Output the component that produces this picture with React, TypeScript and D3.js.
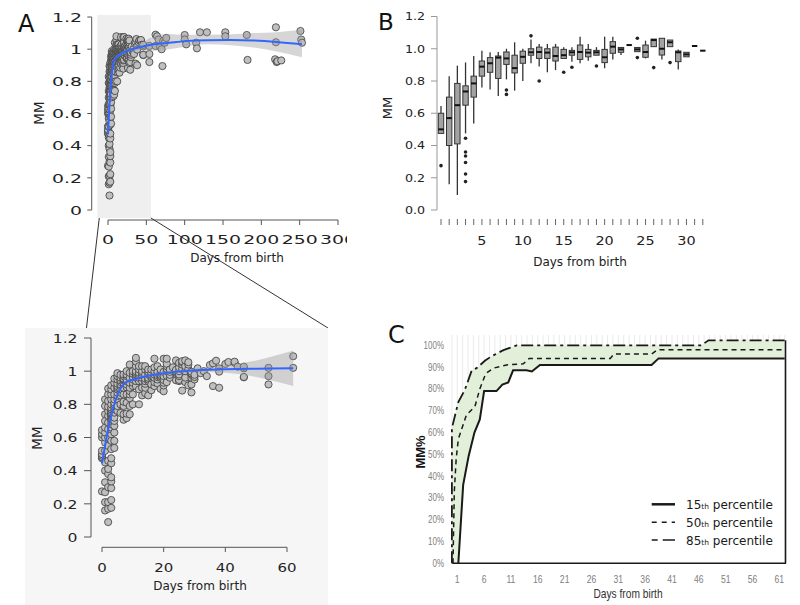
import React from 'react';
import * as d3 from 'd3';

// ---------- Panel A: scatter data (MM by day from birth) ----------
const dayMM: number[][] = [
  [0.275, 0.475, 0.48, 0.49, 0.5, 0.52, 0.6, 0.62, 0.645],
  [0.16, 0.21, 0.27, 0.33, 0.4, 0.45, 0.52, 0.57, 0.6, 0.63, 0.66, 0.7, 0.74, 0.79, 0.83],
  [0.09, 0.17, 0.21, 0.3, 0.38, 0.41, 0.46, 0.55, 0.6, 0.65, 0.69, 0.73, 0.76, 0.785, 0.82, 0.86, 0.895],
  [0.176, 0.223, 0.295, 0.335, 0.36, 0.445, 0.475, 0.53, 0.58, 0.62, 0.65, 0.66, 0.68, 0.7, 0.71, 0.72, 0.73, 0.735, 0.74, 0.745, 0.75, 0.76, 0.77, 0.78, 0.8, 0.83, 0.86, 0.89, 0.915],
  [0.537, 0.58, 0.63, 0.67, 0.7, 0.72, 0.75, 0.77, 0.785, 0.8, 0.81, 0.83, 0.86, 0.9, 0.93, 0.955],
  [0.76, 0.79, 0.83, 0.85, 0.87, 0.89, 0.9, 0.91, 0.924, 0.95, 0.97, 0.988],
  [0.748, 0.8, 0.854, 0.87, 0.89, 0.91, 0.92, 0.935, 0.945, 0.96, 0.978],
  [0.707, 0.74, 0.79, 0.816, 0.86, 0.9, 0.93, 0.945, 0.95, 0.955, 0.97, 0.98],
  [0.717, 0.744, 0.81, 0.86, 0.903, 0.92, 0.94, 0.95, 0.97, 0.98, 1.0],
  [0.74, 0.79, 0.837, 0.86, 0.88, 0.9, 0.93, 0.96, 0.99, 1.04],
  [0.8, 0.86, 0.91, 0.93, 0.95, 0.965, 0.985, 1.0],
  [0.91, 0.94, 0.96, 0.975, 0.98, 0.99, 1.0, 1.03, 1.058, 1.08],
  [0.8, 0.89, 0.94, 0.96, 0.98, 0.99, 1.01, 1.03],
  [0.854, 0.9, 0.94, 0.96, 0.976, 0.99, 1.0, 1.03],
  [0.868, 0.9, 0.924, 0.94, 0.955, 0.98, 1.01, 1.03],
  [0.854, 0.94, 0.95, 0.96, 0.98, 0.996, 1.01],
  [0.885, 0.92, 0.96, 0.97, 0.978, 0.99, 1.01],
  [0.91, 0.934, 0.96, 0.98, 1.0, 1.023, 1.075],
  [0.926, 0.95, 0.965, 0.976, 0.99, 0.996, 1.03],
  [0.893, 0.96, 0.97, 0.978, 0.99, 1.01],
  [0.879, 0.914, 0.93, 0.947, 0.97, 0.996, 1.075],
  [0.934, 0.972, 1.0, 1.013, 1.03, 1.044, 1.075],
  [0.961, 0.978, 0.996, 1.008, 1.01],
  [1.023],
  [0.945, 0.982, 0.99, 0.996, 1.0, 1.008, 1.065],
  [0.94, 0.947, 0.97, 0.98, 1.0, 1.023, 1.05],
  [0.883, 1.013, 1.04, 1.054, 1.06],
  [0.934, 0.961, 1.0, 1.03, 1.065],
  [0.914, 1.013, 1.04, 1.054],
  [0.872, 0.92, 0.96, 0.978, 0.986, 0.996],
  [0.95, 0.965, 0.978],
  [1.017],
  [0.988],
];

const laterDays = [33, 34, 35, 36, 36, 37, 38, 38, 38, 40, 41, 43, 43, 44, 46, 46, 46, 46, 54, 54, 54, 62, 62,
  64, 66, 68, 70, 71, 72, 74, 76, 100, 100, 102, 115, 116, 120, 129, 153, 153, 181, 182, 218, 219, 219, 220, 221, 226, 251, 252, 253];
const laterMM = [1.0, 0.97, 1.037, 0.91, 1.047, 1.063, 1.017, 0.997, 0.9, 1.043, 1.055, 1.051, 1.057, 1.027, 1.017, 0.963, 1.027, 0.965, 1.02, 0.97, 0.92, 1.09, 1.02,
  1.08, 1.06, 1.015, 1.0, 0.895, 1.05, 1.04, 1.07, 1.088, 1.06, 1.03, 1.04, 1.005, 1.105, 1.105, 1.105, 1.08, 1.088, 0.933, 0.937, 1.136, 1.043, 0.92, 0.925, 0.93, 1.113, 1.06, 1.04];

// smooth fit, full range (top panel)
const fitDaysA = [0, 1, 2, 3, 4, 6, 9, 15, 25, 40, 60, 80, 100, 130, 160, 190, 220, 253];
const fitA = [0.47, 0.57, 0.66, 0.74, 0.8, 0.88, 0.94, 0.965, 0.99, 1.01, 1.03, 1.04, 1.05, 1.056, 1.057, 1.054, 1.045, 1.03];
const fitALo = [0.44, 0.55, 0.645, 0.727, 0.79, 0.87, 0.928, 0.955, 0.98, 0.995, 0.99, 1.0, 1.015, 1.03, 1.025, 1.01, 0.985, 0.95];
const fitAHi = [0.5, 0.59, 0.675, 0.753, 0.81, 0.89, 0.952, 0.975, 1.0, 1.03, 1.08, 1.095, 1.09, 1.09, 1.092, 1.1, 1.105, 1.12];

// smooth fit, first 62 days (inset)
const fitDaysI = [0, 1, 2, 3, 4, 5, 6, 7, 8, 10, 12, 15, 20, 25, 32, 40, 50, 62];
const fitI = [0.445, 0.55, 0.65, 0.73, 0.8, 0.855, 0.895, 0.92, 0.935, 0.948, 0.958, 0.972, 0.988, 0.998, 1.007, 1.012, 1.015, 1.017];
const fitILo = [0.41, 0.525, 0.632, 0.716, 0.788, 0.844, 0.885, 0.91, 0.925, 0.939, 0.949, 0.963, 0.979, 0.988, 0.995, 0.99, 0.965, 0.91];
const fitIHi = [0.48, 0.575, 0.668, 0.744, 0.812, 0.866, 0.905, 0.93, 0.945, 0.957, 0.967, 0.981, 0.997, 1.008, 1.019, 1.034, 1.065, 1.124];

const aTicksY = [0, 0.2, 0.4, 0.6, 0.8, 1, 1.2];
const aTicksX = [0, 50, 100, 150, 200, 250, 300];
const insetTicksX = [0, 20, 40, 60];
const zoomWindow = [-14, 56];

// ---------- Panel B: box plot stats by day ----------
const boxDays = [0, 1, 2, 3, 4, 5, 6, 7, 8, 9, 10, 11, 12, 13, 14, 15, 16, 17, 18, 19, 20, 21, 22, 23, 24, 25, 26, 27, 28, 29, 30, 31, 32];
const boxLo = [0.475, 0.16, 0.093, 0.475, 0.537, 0.759, 0.748, 0.707, 0.81, 0.74, 0.8, 0.91, 0.89, 0.854, 0.868, 0.94, 0.92, 0.91, 0.926, 0.96, 0.879, 0.934, 0.961, 1.023, 0.982, 0.94, 1.013, 0.934, 1.013, 0.872, 0.95, 1.017, 0.988];
const boxQ1 = [0.475, 0.4, 0.41, 0.65, 0.7, 0.83, 0.854, 0.816, 0.903, 0.85, 0.91, 0.96, 0.94, 0.94, 0.924, 0.94, 0.96, 0.934, 0.95, 0.96, 0.914, 0.972, 0.978, 1.023, 0.982, 0.947, 1.013, 0.961, 1.013, 0.92, 0.95, 1.017, 0.988];
const boxMed = [0.5, 0.57, 0.65, 0.735, 0.785, 0.889, 0.91, 0.945, 0.94, 0.88, 0.95, 0.978, 0.98, 0.976, 0.955, 0.96, 0.978, 0.98, 0.976, 0.978, 0.947, 1.013, 0.996, 1.023, 0.996, 0.98, 1.054, 1.0, 1.04, 0.978, 0.965, 1.017, 0.988];
const boxQ3 = [0.6, 0.7, 0.785, 0.77, 0.83, 0.924, 0.945, 0.955, 0.98, 0.96, 0.985, 1.0, 1.01, 1.0, 1.01, 0.996, 0.99, 1.023, 0.996, 0.99, 0.996, 1.044, 1.008, 1.023, 1.008, 1.023, 1.06, 1.065, 1.054, 0.986, 0.978, 1.017, 0.988];
const boxHi = [0.645, 0.83, 0.895, 0.915, 0.955, 0.988, 0.978, 0.98, 1.0, 1.04, 1.0, 1.058, 1.03, 1.03, 1.03, 1.01, 1.01, 1.075, 1.03, 1.01, 1.075, 1.075, 1.01, 1.023, 1.008, 1.05, 1.06, 1.065, 1.054, 0.996, 0.978, 1.017, 0.988];
const boxOut: number[][] = [[0.275], [], [], [0.445, 0.36, 0.335, 0.295, 0.223, 0.176], [], [], [], [], [0.744, 0.717], [], [], [1.08], [0.8], [], [], [0.854], [0.885], [], [], [0.893], [], [], [], [], [1.065, 0.945], [], [0.883], [], [0.914], [], [], [], []];
const bTicksY = [0, 0.2, 0.4, 0.6, 0.8, 1.0, 1.2];
const bLabelsX = [5, 10, 15, 20, 25, 30];

// ---------- Panel C: percentile curves ----------
const p15Days = [1.2, 2.1, 3.1, 4.2, 5.2, 6.0, 8.3, 9.4, 10.5, 11.4, 13.9, 14.9, 16.4, 37.2, 38.5, 62];
const p15Vals = [0, 36, 49, 60, 66, 79, 79, 82, 83, 88.5, 88.5, 88, 91, 91, 94, 94];
const p50Days = [0.2, 0.45, 0.8, 1.2, 2.7, 4.3, 5.2, 6.3, 7.7, 10.2, 13.3, 14.4, 29.5, 30.2, 37.2, 38.3, 62];
const p50Vals = [0, 33, 48, 57, 68, 72, 80, 87, 89.5, 91, 91.5, 94, 94, 96, 96, 98, 98];
const p85Days = [0, 0, 1.2, 2.4, 3.7, 4.6, 6.2, 7.4, 9.6, 12.1, 46.5, 47.8, 62];
const p85Vals = [0, 62, 74, 79.5, 88.5, 89.5, 93, 95, 97.8, 100, 100, 102.3, 102.3];
const cTicksY = [0, 10, 20, 30, 40, 50, 60, 70, 80, 90, 100];
const cLabelsX = [1, 6, 11, 16, 21, 26, 31, 36, 41, 46, 51, 56, 61];
const legendNames = ['15', '50', '85'];

const DJ = "'DejaVu Sans', Verdana, sans-serif";
const LIB = "'Liberation Sans', Arial, sans-serif";

function ST(props: any) {
  const { x, y, s = 1, anchor = 'middle', size = 12, family = DJ, fill = '#222', weight, rotate, children, dy } = props;
  return (
    <text
      transform={`translate(${x},${y})${rotate ? ` rotate(${rotate})` : ''} scale(${s},1)`}
      textAnchor={anchor}
      fontSize={size}
      fontFamily={family}
      fill={fill}
      fontWeight={weight}
      dy={dy}
    >
      {children}
    </text>
  );
}

function allPoints() {
  const pts: { d: number; v: number }[] = [];
  dayMM.forEach((arr, d) => arr.forEach((v) => pts.push({ d, v })));
  laterDays.forEach((d, i) => pts.push({ d, v: laterMM[i] }));
  return pts;
}

function PanelA() {
  const xA = d3.scaleLinear().domain([0, 300]).range([108, 338]);
  const yA = d3.scaleLinear().domain([0, 1.2]).range([210, 17]);
  const xI = d3.scaleLinear().domain([0, 60]).range([102, 287]);
  const yI = d3.scaleLinear().domain([0, 1.2]).range([537, 338]);
  const pts = allPoints();

  const ribbonA = d3.area<number>().x((d, i) => xA(fitDaysA[i])).y0((d, i) => yA(fitALo[i])).y1((d, i) => yA(fitAHi[i])).curve(d3.curveMonotoneX);
  const lineA = d3.line<number>().x((d, i) => xA(fitDaysA[i])).y((d) => yA(d)).curve(d3.curveMonotoneX);
  const ribbonI = d3.area<number>().x((d, i) => xI(fitDaysI[i])).y0((d, i) => yI(fitILo[i])).y1((d, i) => yI(fitIHi[i])).curve(d3.curveMonotoneX);
  const lineI = d3.line<number>().x((d, i) => xI(fitDaysI[i])).y((d) => yI(d)).curve(d3.curveMonotoneX);

  const zx0 = xA(zoomWindow[0]);
  const zx1 = xA(zoomWindow[1]);
  const axisC = '#555';

  return (
    <g>
      <defs>
        <clipPath id="clipA">
          <rect x={0} y={0} width={347} height={300} />
        </clipPath>
      </defs>
      <text x={18} y={32} fontSize={24} fontFamily={DJ} fill="#111">A</text>
      <rect x={zx0} y={15} width={zx1 - zx0} height={203} fill="#efefef" />
      <line x1={91.7} x2={91.7} y1={yA(1.2)} y2={yA(0)} stroke={axisC} />
      {aTicksY.map((t) => (
        <g key={t}>
          <line x1={87.3} x2={91.7} y1={yA(t)} y2={yA(t)} stroke={axisC} />
          <ST x={82} y={yA(t)} dy="0.36em" s={1.45} anchor="end" size={13}>{String(t)}</ST>
        </g>
      ))}
      <ST x={44} y={113} rotate={-90} size={13.5}>MM</ST>
      <g clipPath="url(#clipA)">
        <line x1={xA(0)} x2={xA(300)} y1={220} y2={220} stroke={axisC} />
        {aTicksX.map((t) => (
          <g key={t}>
            <line x1={xA(t)} x2={xA(t)} y1={220} y2={225} stroke={axisC} />
            <ST x={xA(t)} y={244} s={1.45} size={13}>{String(t)}</ST>
          </g>
        ))}
      </g>
      <ST x={237} y={262} size={12}>Days from birth</ST>
      {pts.map((p, i) => (
        <circle key={i} cx={xA(p.d)} cy={yA(p.v)} r={3.6} fill="#bfbfbf" stroke="#3a3a3a" strokeWidth={0.8} />
      ))}
      <path d={ribbonA(fitA) || ''} fill="#999" opacity={0.4} />
      <path d={lineA(fitA) || ''} fill="none" stroke="#3366ff" strokeWidth={2} />

      <line x1={zx0 + 2} y1={218} x2={86} y2={332} stroke="#333" strokeWidth={1} />
      <line x1={zx1} y1={218} x2={328} y2={328} stroke="#333" strokeWidth={1} />

      <rect x={25} y={328} width={303} height={277} fill="#f6f6f6" />
      <line x1={91} x2={91} y1={yI(1.2)} y2={yI(0)} stroke={axisC} />
      {aTicksY.map((t) => (
        <g key={t}>
          <line x1={84} x2={91} y1={yI(t)} y2={yI(t)} stroke={axisC} />
          <ST x={77.5} y={yI(t)} dy="0.36em" s={1.2} anchor="end" size={13}>{String(t)}</ST>
        </g>
      ))}
      <ST x={42} y={438} rotate={-90} size={13.5}>MM</ST>
      <line x1={xI(0)} x2={xI(60)} y1={547.3} y2={547.3} stroke={axisC} />
      {insetTicksX.map((t) => (
        <g key={t}>
          <line x1={xI(t)} x2={xI(t)} y1={547.3} y2={552} stroke={axisC} />
          <ST x={xI(t)} y={571.5} s={1.15} size={13}>{String(t)}</ST>
        </g>
      ))}
      <ST x={200} y={590} size={12}>Days from birth</ST>
      {pts.filter((p) => p.d <= 63).map((p, i) => (
        <circle key={i} cx={xI(p.d)} cy={yI(p.v)} r={3.6} fill="#bfbfbf" stroke="#3a3a3a" strokeWidth={0.8} />
      ))}
      <path d={ribbonI(fitI) || ''} fill="#999" opacity={0.4} />
      <path d={lineI(fitI) || ''} fill="none" stroke="#3366ff" strokeWidth={2} />
    </g>
  );
}

function PanelB() {
  const xB = d3.scaleLinear().domain([0, 32]).range([441, 702.8]);
  const yB = d3.scaleLinear().domain([0, 1.2]).range([210, 16.5]);
  const hw = 2.7;
  return (
    <g>
      <text x={378} y={30} fontSize={23} fontFamily={DJ} fill="#111">B</text>
      <line x1={437} x2={437} y1={yB(1.2)} y2={yB(0)} stroke="#999" />
      {bTicksY.map((t) => (
        <g key={t}>
          <line x1={431} x2={437} y1={yB(t)} y2={yB(t)} stroke="#999" />
          <ST x={425} y={yB(t)} dy="0.36em" s={1.15} anchor="end" size={11}>{t.toFixed(1)}</ST>
        </g>
      ))}
      <ST x={392} y={108} rotate={-90} size={13}>MM</ST>
      {boxDays.map((d) => (
        <line key={d} x1={xB(d)} x2={xB(d)} y1={219} y2={225} stroke="#555" strokeWidth={0.9} />
      ))}
      {bLabelsX.map((t) => (
        <ST key={t} x={xB(t)} y={245} s={1.2} size={12}>{String(t)}</ST>
      ))}
      <ST x={580} y={266} size={12}>Days from birth</ST>
      {boxDays.map((d, i) => {
        const x = xB(d);
        return (
          <g key={d}>
            <line x1={x} x2={x} y1={yB(boxHi[i])} y2={yB(boxQ3[i])} stroke="#333" strokeWidth={1.3} />
            <line x1={x} x2={x} y1={yB(boxQ1[i])} y2={yB(boxLo[i])} stroke="#333" strokeWidth={1.3} />
            <rect x={x - hw} y={yB(boxQ3[i])} width={hw * 2} height={Math.max(0, yB(boxQ1[i]) - yB(boxQ3[i]))} fill="#a3a3a3" stroke="#333" strokeWidth={1} />
            <line x1={x - hw} x2={x + hw} y1={yB(boxMed[i])} y2={yB(boxMed[i])} stroke="#111" strokeWidth={2} />
            {boxOut[i].map((o, j) => (
              <circle key={j} cx={x} cy={yB(o)} r={1.8} fill="#222" />
            ))}
          </g>
        );
      })}
    </g>
  );
}

function PanelC() {
  const xC = d3.scaleLinear().domain([0, 62]).range([451.9, 784.7]);
  const yC = d3.scaleLinear().domain([0, 100]).range([563.3, 345.3]);
  const top = 335;
  const mk = (days: number[]) => d3.line<number>().x((d, i) => xC(days[i])).y((d) => yC(d));
  const area85 = d3.area<number>().x((d, i) => xC(p85Days[i])).y0(yC(0)).y1((d) => yC(d));
  const area15 = d3.area<number>().x((d, i) => xC(p15Days[i])).y0(yC(0)).y1((d) => yC(d));
  const gridDays = d3.range(0, 63);
  const legendY = [504.3, 522.3, 540];
  const dashes = [undefined, '5,5', '6,5,13,0'];
  return (
    <g>
      <text x={388} y={343} fontSize={24} fontFamily={DJ} fill="#111">C</text>
      {gridDays.map((d) => (
        <line key={d} x1={xC(d)} x2={xC(d)} y1={top} y2={yC(0)} stroke="#dcdcdc" strokeWidth={0.6} />
      ))}
      <path d={area85(p85Vals) || ''} fill="#e2efd9" />
      <path d={area15(p15Vals) || ''} fill="#ffffff" />
      <path d={mk(p85Days)(p85Vals) || ''} fill="none" stroke="#1a1a1a" strokeWidth={1.8} strokeDasharray="12,4,3,4" />
      <path d={mk(p50Days)(p50Vals) || ''} fill="none" stroke="#1a1a1a" strokeWidth={1.5} strokeDasharray="5,4" />
      <path d={mk(p15Days)(p15Vals) || ''} fill="none" stroke="#1a1a1a" strokeWidth={2} />
      <line x1={452.3} x2={786} y1={yC(0)} y2={yC(0)} stroke="#1a1a1a" strokeWidth={1.6} />
      <line x1={785.5} x2={785.5} y1={yC(102.3)} y2={yC(0)} stroke="#1a1a1a" strokeWidth={1.6} />
      {cTicksY.map((t) => (
        <ST key={t} x={444} y={yC(t)} dy="0.35em" s={0.8} anchor="end" size={10} family={LIB} fill="#808080">{`${t}%`}</ST>
      ))}
      {cLabelsX.map((t) => (
        <ST key={t} x={xC(t)} y={583} s={0.82} size={10.5} family={LIB} fill="#808080">{String(t)}</ST>
      ))}
      <ST x={628} y={597.5} s={0.85} size={12} family={LIB} fill="#333">Days from birth</ST>
      <text transform="translate(424.5,452) rotate(-90)" textAnchor="middle" fontSize={13} fontWeight="bold" fontFamily={LIB} fill="#111">MM%</text>
      {legendNames.map((n, i) => (
        <g key={n}>
          <line x1={651.7} x2={675} y1={legendY[i]} y2={legendY[i]} stroke="#1a1a1a" strokeWidth={i === 0 ? 2.5 : 1.6} strokeDasharray={dashes[i]} />
          <text x={686} y={legendY[i] + 4.5} fontSize={12} fontFamily={DJ} fill="#1a1a1a">
            {n}
            <tspan fontSize={7.5}>th</tspan>
            <tspan> percentile</tspan>
          </text>
        </g>
      ))}
    </g>
  );
}

export default function App() {
  return (
    <div style={{ position: 'absolute', left: 0, top: 0 }}>
      <svg width={800} height={605} style={{ display: 'block', background: '#fff' }}>
        <rect x={0} y={0} width={800} height={605} fill="#fff" />
        <PanelA />
        <PanelB />
        <PanelC />
      </svg>
    </div>
  );
}
